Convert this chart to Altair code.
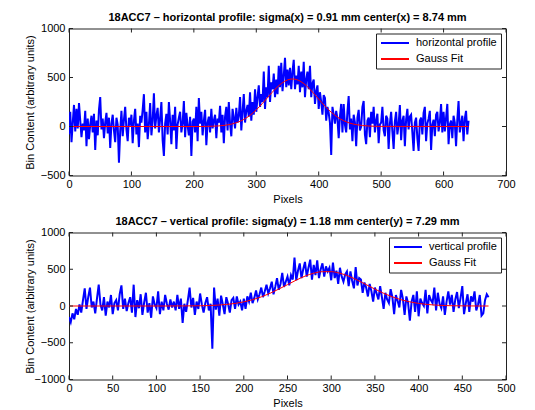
import altair as alt
import pandas as pd

# ---------------- top panel (horizontal profile) ----------------
h_step = 2
h_profile = [
    -80, 150, -160, 40, 220, -50, 180, -20, 240, 60, -110, 30, -40, 160, -200, 80, -130, 20, 110, -60,
    130, -240, 60, -90, 170, 300, -30, 80, -120, 40, 140, -70, 90, -220, 30, 120, -40, -160, 90, 20,
    -370, -50, 160, -100, 70, 200, -30, -150, 90, 10, 120, -170, 60, 180, -80, 30, -210, 110, 40, 170,
    330, -60, 150, -130, 20, 240, -90, 60, 340, -20, 110, 190, -60, 80, 250, -140, -300, 30, 130, -80,
    250, 60, -180, 120, -40, 200, -230, 20, 90, 150, -60, 30, 260, -110, 140, 10, -90, 100, -300, 50,
    80, -60, 200, -150, 290, 30, 150, -90, 60, 170, -190, 40, 100, -60, 180, -20, 60, 120, -120, 80,
    40, 210, -60, 120, -170, 100, 200, -40, 250, 30, -100, 180, 90, -20, 190, 40, 110, 300, -40, 150,
    330, 40, 160, 220, 100, 350, 60, 250, 120, 380, 150, 300, 420, 200, 330, 250, 560, 180, 400, 300,
    620, 250, 450, 380, 540, 300, 480, 330, 620, 400, 650, 360, 520, 700, 400, 580, 420, 600, 380, 560,
    680, 380, 520, 430, 620, 350, 560, 400, 660, 300, 480, 560, 380, 620, 300, 440, 480, 230, 360, 420,
    180, 350, 250, 120, 320, 290, 60, 200, 140, 40, -290, 200, 120, 30, 160, 80, -120, 100, 230, -60,
    230, 20, -60, 150, 310, -30, 80, -150, 120, 40, -200, 90, 170, -40, 0, 200, 260, -80, -180, 60,
    90, -110, 150, 30, 200, -60, 60, 130, -170, 20, 40, 200, -40, -100, 110, 80, -230, 30, 150, -50,
    -230, 50, 150, -80, 20, 220, -140, 60, 110, -200, 70, 180, -30, 100, 120, -60, -250, 40, 90, -120,
    -250, 60, 90, -80, 140, 200, -150, 30, 80, 160, -240, 20, 70, -100, 120, 150, -50, 40, 230, -60,
    150, -50, 90, 230, -180, 20, 60, -120, 110, 40, -200, 70, 260, -60, 30, 110, -150, 80, 160, -80,
    60,
]
h_fit_x = [0, 210, 220, 230, 240, 250, 260, 270, 280, 290, 300, 310, 320, 330, 340, 350, 358, 370, 380,
           390, 400, 410, 420, 430, 440, 450, 460, 470, 480, 490, 500, 640]
h_fit_y = [0, 0, 1, 3, 6, 13, 24, 43, 72, 114, 170, 236, 309, 380, 438, 475, 485, 464, 417,
           352, 280, 208, 146, 96, 59, 34, 19, 10, 5, 2, 1, 0]
h_xticks = [0, 100, 200, 300, 400, 500, 600, 700]
h_yticks = [-500, 0, 500, 1000]

# ---------------- bottom panel (vertical profile) ----------------
v_step = 2
v_profile = [
    -150, -220, -100, -180, -40, -120, 20, -90, 80, 240, -40, 120, 250, -20, 60, -100, 100, 290, 20, -60,
    120, -130, 60, -20, 150, -110, 40, 80, -60, 160, 280, -40, 100, -70, 40, 120, -90, 290, -150, 80,
    -30, 160, -120, 50, 180, -90, 40, -160, 130, 20, -30, 200, -110, 60, -60, 150, 30, -50, 90, -20,
    60, -60, 150, -40, 100, -230, 30, -80, 80, 250, -20, 110, -120, 60, -40, 170, 20, -90, 40, 120,
    -60, 30, -580, 250, -50, 100, -130, 140, 20, -110, 120, 30, -90, 80, 110, -40, 130, 20, 60, -60,
    100, -40, 130, 60, 180, 40, 110, 210, 90, 160, 250, 120, 200, 290, 170, 240, 330, 160, 260, 380,
    220, 300, 450, 260, 330, 400, 280, 420, 360, 660, 350, 480, 580, 380, 500, 600, 400, 520, 630, 360,
    560, 420, 620, 380, 500, 580, 400, 540, 470, 520, 350, 590, 380, 480, 300, 520, 400, 330, 430, 470,
    270, 470, 340, 240, 530, 280, 380, 360, 180, 320, 250, 130, 300, 200, 60, 250, 170, 90, 270, 120,
    -40, 180, 90, 40, 230, 120, -110, 150, 70, -20, 220, 100, -120, 130, 40, -200, 60, 150, -80, 200,
    -140, 100, 40, 0, 220, -100, 150, 80, 40, 250, -60, 180, 30, -30, 130, -120, 60, 200, 20, 150,
    -80, 90, 190, -30, 110, 270, -110, 40, 160, -80, 130, 60, 200, -60, 20, 150, -130, -100, 80, 160,
    120,
]
v_fit_x = [0, 110, 120, 130, 140, 150, 160, 170, 180, 190, 200, 210, 220, 230, 240, 250, 260, 270, 280,
           290, 300, 310, 320, 330, 340, 350, 360, 370, 380, 390, 400, 410, 420, 430, 440, 450, 460, 470, 480]
v_fit_y = [0, 0, 1, 1, 2, 3, 6, 12, 21, 35, 56, 85, 124, 173, 230, 291, 352, 406, 446,
           467, 467, 446, 406, 352, 291, 230, 173, 124, 85, 56, 35, 21, 12, 6, 3, 2, 1, 0, 0]
v_xticks = [0, 50, 100, 150, 200, 250, 300, 350, 400, 450, 500]
v_yticks = [-1000, -500, 0, 500, 1000]

W, H = 437, 147
FONT = "Liberation Sans"


def panel(step, prof, fx, fy, name, title, xdom, xticks, ydom, yticks):
    pdf = pd.DataFrame({"Pixels": [i * step for i in range(len(prof))], "value": prof, "series": name})
    fdf = pd.DataFrame({"Pixels": fx, "value": fy, "series": "Gauss Fit"})
    xs = alt.Scale(domain=xdom, nice=False, zero=False)
    ys = alt.Scale(domain=ydom, nice=False, zero=False)
    xax = alt.Axis(values=xticks, title="Pixels", format="d", labelFlush=False, labelPadding=3, titlePadding=4)
    yax = alt.Axis(values=yticks, title="Bin Content (arbitrary units)", format="d", labelFlush=False,
                   labelPadding=4, titleX=-34)
    color = alt.Color(
        "series:N",
        scale=alt.Scale(domain=[name, "Gauss Fit"], range=["#0000ff", "#ff0000"]),
        legend=alt.Legend(
            title=None, orient="top-right", offset=5, padding=4,
            symbolType="stroke", symbolSize=784, symbolStrokeWidth=2, clipHeight=11,
            rowPadding=4, labelOffset=6, labelFontSize=11, labelFont=FONT, labelColor="black",
            strokeColor="#222222", fillColor="white", cornerRadius=0, labelLimit=300,
        ),
    )
    x = alt.X("Pixels:Q", scale=xs, axis=xax)
    y = alt.Y("value:Q", scale=ys, axis=yax)
    l1 = alt.Chart(pdf).mark_line(strokeWidth=2, clip=True).encode(x=x, y=y, color=color)
    l2 = alt.Chart(fdf).mark_line(strokeWidth=1, interpolate="monotone", clip=True).encode(x=x, y=y, color=color)

    ydf = pd.DataFrame({"t": yticks})
    xdf = pd.DataFrame({"t": xticks})
    ty = alt.Y("t:Q", scale=ys, axis=yax)
    tx = alt.X("t:Q", scale=xs, axis=xax)
    tl = alt.Chart(ydf).mark_rule(color="#222222", strokeWidth=1).encode(y=ty, x=alt.value(0), x2=alt.value(4))
    tr = alt.Chart(ydf).mark_rule(color="#222222", strokeWidth=1).encode(y=ty, x=alt.value(W - 4), x2=alt.value(W))
    tb = alt.Chart(xdf).mark_rule(color="#222222", strokeWidth=1).encode(x=tx, y=alt.value(H - 4), y2=alt.value(H))
    tt = alt.Chart(xdf).mark_rule(color="#222222", strokeWidth=1).encode(x=tx, y=alt.value(0), y2=alt.value(4))

    return alt.layer(l1, l2, tl, tr, tb, tt).properties(
        width=W, height=H,
        title=alt.TitleParams(title, font=FONT, fontSize=11, fontWeight="bold", color="black", offset=0),
    )


top = panel(h_step, h_profile, h_fit_x, h_fit_y, "horizontal profile",
            "18ACC7 \u2013 horizontal profile: sigma(x) = 0.91 mm center(x) = 8.74 mm",
            [0, 700], h_xticks, [-500, 1000], h_yticks)
bottom = panel(v_step, v_profile, v_fit_x, v_fit_y, "vertical profile",
               "18ACC7 \u2013 vertical profile: sigma(y) = 1.18 mm center(y) = 7.29 mm",
               [0, 500], v_xticks, [-1000, 1000], v_yticks)

chart = alt.vconcat(top, bottom, spacing=9).resolve_scale(color="independent").resolve_legend(
    color="independent"
).properties(
    padding={"left": 23, "top": 10.5, "right": 5, "bottom": 2},
    background="white",
).configure_view(
    stroke="#222222", strokeWidth=1
).configure_axis(
    grid=False, domain=False, ticks=False,
    labelFont=FONT, labelFontSize=11, labelColor="black",
    titleFont=FONT, titleFontSize=11, titleFontWeight="normal", titleColor="black",
)

chart.save("out.html", embed_options={"renderer": "svg", "actions": False})
